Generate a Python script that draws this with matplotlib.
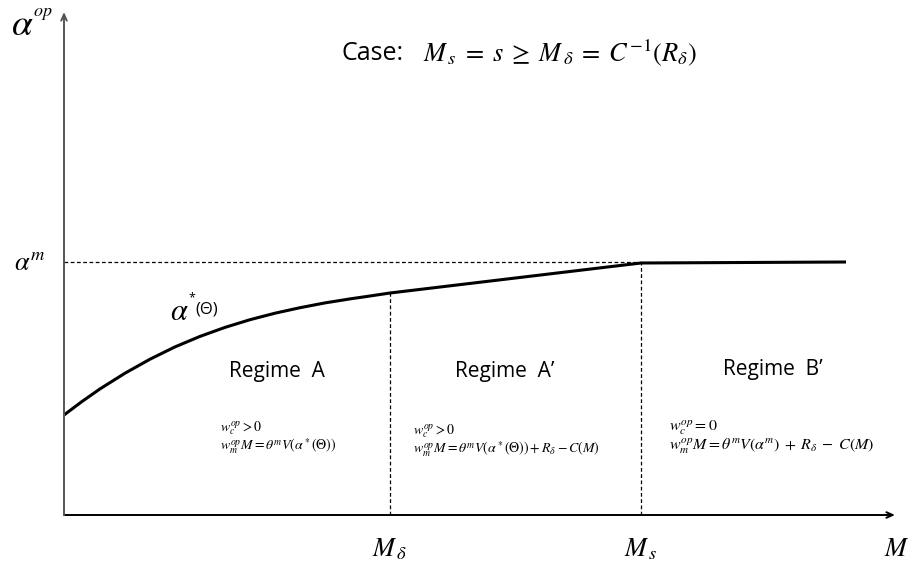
import matplotlib.pyplot as plt

plt.rcParams['font.family'] = ['Open Sans', 'DejaVu Sans']
plt.rcParams['mathtext.fontset'] = 'stix'

# curve alpha*(Theta) up to M_s, then flat at alpha^m
M_curve = [0.00, 0.18, 0.36, 0.61, 0.86, 1.11, 1.36, 1.61, 1.86, 2.11, 2.36,
           2.61, 2.86, 3.06, 3.26, 5.77, 7.82]
alpha_curve = [1.00, 1.135, 1.261, 1.418, 1.558, 1.681, 1.786, 1.876, 1.953, 2.018,
               2.073, 2.121, 2.161, 2.190, 2.22, 2.52, 2.53]

M_delta = 3.26
M_s = 5.77
alpha_m = 2.53
alpha_at_Mdelta = 2.22

x_axis_end = 8.31
y_axis_end = 5.03

regime_names = ['Regime  A', 'Regime  A\u2019', 'Regime  B\u2019']
regime_x = [2.13, 4.41, 7.09]
regime_y = [1.38, 1.38, 1.40]

cond_lines = [
    [r'$w_c^{op} > 0$',
     r'$w_m^{op}M = \theta^m V\left(\alpha^*\left(\Theta\right)\right)$'],
    [r'$w_c^{op} > 0$',
     r'$w_m^{op}M = \theta^m V\left(\alpha^*\left(\Theta\right)\right) + R_\delta - C\left(M\right)$'],
    [r'$w_c^{op} = 0$',
     r'$w_m^{op}M = \theta^m V\left(\alpha^m\right)\; + \;R_\delta \;-\; C\left(M\right)$'],
]
cond_x = [1.56, 3.49, 6.05]
cond_y = [0.87, 0.84, 0.87]
cond_size = [10, 10, 11.5]

fig = plt.figure(figsize=(9.1, 5.62), dpi=100)
ax = fig.add_axes([0, 0, 1, 1])
ax.set_xlim(-0.64, 8.46)
ax.set_ylim(-0.47, 5.15)
ax.axis('off')

# axes with arrows
ax.annotate('', xy=(x_axis_end, 0), xytext=(0, 0),
            arrowprops=dict(arrowstyle='->,head_length=0.45,head_width=0.2',
                            lw=1.4, color='black', shrinkA=0, shrinkB=0))
ax.annotate('', xy=(0, y_axis_end), xytext=(0, 0),
            arrowprops=dict(arrowstyle='->,head_length=0.45,head_width=0.2',
                            lw=1.4, color='#555555', shrinkA=0, shrinkB=0))

# dashed guides
dash = dict(color='black', lw=0.9, linestyle=(0, (3, 2)))
ax.plot([0, M_s], [alpha_m, alpha_m], **dash)
ax.plot([M_delta, M_delta], [0, alpha_at_Mdelta], **dash)
ax.plot([M_s, M_s], [0, alpha_m], **dash)

ax.plot(M_curve, alpha_curve, color='black', lw=2.2, solid_capstyle='butt',
        solid_joinstyle='round')

# axis labels
ax.text(-0.42, 4.90, r'$\alpha$', fontsize=27, ha='center', va='center')
ax.text(-0.31, 5.02, r'$op$', fontsize=13, ha='left', va='center')
ax.text(-0.34, 2.52, r'$\alpha^{m}$', fontsize=19, ha='center', va='center')
ax.text(M_delta, -0.35, r'$M_{\,\delta}$', fontsize=19, ha='center', va='center')
ax.text(M_s, -0.35, r'$M_{\,s}$', fontsize=19, ha='center', va='center')
ax.text(8.33, -0.35, r'$M$', fontsize=19, ha='center', va='center')

ax.text(1.06, 2.03, r'$\alpha$', fontsize=22, ha='left', va='center')
ax.text(1.275, 2.17, '*', fontsize=9, ha='center', va='center')
ax.text(1.31, 2.05, '(\u0398)', fontsize=12, ha='left', va='center')

ax.text(2.78, 4.62, 'Case:', fontsize=18, ha='left', va='center')
ax.text(3.59, 4.62,
        r'$M_{\,s}\;=\;s\;\geq\;M_{\,\delta}\;=\;C^{-1}\left(R_\delta\right)$',
        fontsize=19, ha='left', va='center')

for name, x, y in zip(regime_names, regime_x, regime_y):
    ax.text(x, y, name, fontsize=15, ha='center', va='baseline')

for lines, x, y, fs in zip(cond_lines, cond_x, cond_y, cond_size):
    ax.text(x, y, lines[0], fontsize=fs, ha='left', va='center')
    ax.text(x, y - 0.18, lines[1], fontsize=fs, ha='left', va='center')

fig.savefig('out.png', dpi=100)
